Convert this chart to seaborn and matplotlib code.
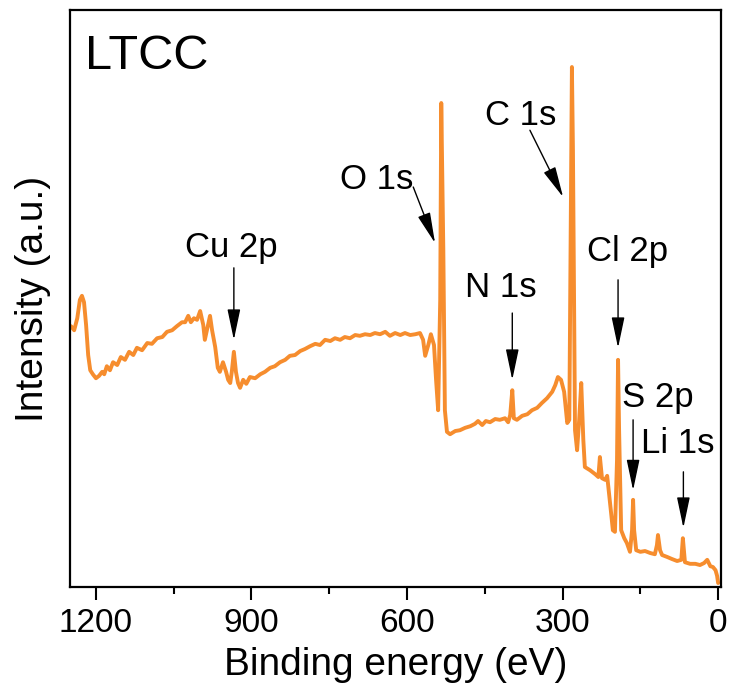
import numpy as np
import pandas as pd
import matplotlib
matplotlib.use("Agg")
import matplotlib.pyplot as plt
import seaborn as sns

# ---------------------------
# datos del espectro XPS (survey)
# ---------------------------
energia = [1248, 1242, 1236, 1231, 1227, 1223, 1219, 1215, 1211, 1206, 1200, 1194, 1188,
           1184, 1179, 1173, 1167, 1159, 1152, 1144, 1136, 1128, 1121, 1111, 1101, 1092,
           1082, 1072, 1063, 1053, 1044, 1034, 1028, 1022, 1017, 1011, 1005, 999, 993,
           990, 986, 980, 976, 970, 965, 961, 955, 949, 945, 941, 938, 934, 930, 926,
           922, 916, 910, 903, 893, 883, 874, 864, 855, 845, 835, 826, 816, 806, 797,
           787, 777, 768, 758, 748, 739, 729, 720, 710, 700, 691, 681, 671, 662, 652,
           642, 633, 623, 613, 604, 594, 584, 575, 569, 565, 559, 554, 548, 544, 540,
           536, 534, 530, 527, 523, 517, 507, 498, 488, 478, 469, 463, 455, 448, 440,
           430, 421, 411, 405, 401, 397, 394, 388, 378, 368, 359, 349, 340, 330, 320,
           314, 309, 303, 297, 291, 287, 284, 282, 280, 276, 272, 268, 264, 260, 257,
           247, 237, 231, 228, 224, 218, 214, 210, 206, 203, 199, 195, 193, 191, 187,
           181, 176, 170, 166, 164, 162, 158, 150, 141, 131, 122, 118, 116, 112, 108,
           98, 89, 79, 71, 68, 64, 54, 44, 35, 27, 21, 15, 10, 5, 2, 0]
intensidad = [65.2, 64.2, 67.2, 71.8, 72.8, 71.2, 65.5, 58.0, 54.2, 53.2, 52.2, 52.8, 53.8,
              53.2, 55.2, 54.2, 56.2, 55.5, 57.5, 56.8, 58.8, 58.0, 59.8, 59.2, 61.0, 60.8,
              62.2, 62.5, 63.8, 64.2, 65.2, 66.2, 66.2, 67.8, 66.2, 67.2, 66.8, 69.0, 65.5,
              61.8, 64.2, 67.8, 64.2, 60.0, 54.8, 53.8, 56.2, 53.8, 51.8, 51.0, 53.8, 58.8,
              53.8, 51.0, 49.8, 51.8, 50.8, 52.5, 52.2, 53.2, 53.8, 54.8, 55.2, 56.2, 56.8,
              57.8, 58.0, 59.0, 59.5, 60.2, 60.8, 60.5, 61.8, 61.5, 62.2, 61.8, 62.5, 62.2,
              63.0, 62.8, 63.2, 63.0, 63.5, 63.2, 63.8, 62.8, 63.5, 63.0, 63.5, 63.0, 63.2,
              63.5, 61.8, 57.8, 60.5, 63.2, 60.5, 51.8, 44.2, 71.8, 121.0, 84.2, 44.2, 38.8,
              38.2, 39.0, 39.2, 39.8, 40.2, 40.8, 41.5, 40.5, 41.5, 41.2, 42.0, 41.8, 42.2,
              41.2, 43.0, 49.2, 42.2, 41.8, 42.8, 43.2, 44.2, 44.8, 46.0, 47.2, 48.8, 50.5,
              52.5, 51.8, 48.8, 41.0, 41.8, 96.8, 130.0, 109.2, 39.2, 34.2, 41.8, 51.0,
              36.8, 30.0, 29.2, 28.2, 27.5, 32.5, 27.2, 26.8, 27.8, 23.0, 18.0, 14.2, 13.8,
              31.8, 56.8, 39.2, 14.2, 12.2, 11.0, 8.8, 14.2, 21.8, 14.2, 9.2, 8.8, 9.0,
              8.5, 8.2, 10.5, 13.0, 9.2, 8.0, 7.5, 7.0, 6.5, 6.8, 12.2, 6.2, 5.8, 5.8,
              5.5, 6.0, 6.8, 5.2, 5.0, 4.2, 2.8, 1.0]

# etiquetas de los picos: texto, posicion del texto, inicio y fin de la flecha
picos = ['Cu 2p', 'O 1s', 'C 1s', 'N 1s', 'Cl 2p', 'S 2p', 'Li 1s']
texto_x = [939, 658, 380, 420, 174, 116, 77]
texto_y = [84.8, 101.8, 118.0, 74.8, 83.8, 47.5, 35.8]
flecha_x0 = [934, 588, 363, 397, 193, 164, 67]
flecha_y0 = [79.8, 100.0, 114.2, 68.5, 76.8, 41.8, 28.8]
flecha_x1 = [934, 546, 299, 397, 193, 164, 67]
flecha_y1 = [61.8, 86.0, 97.5, 51.8, 59.8, 24.2, 14.8]

df = pd.DataFrame({'BE': energia, 'I': intensidad})

# ---------------------------
# grafica
# ---------------------------
sns.set_style('ticks')
plt.rcParams['font.family'] = ['Liberation Sans', 'DejaVu Sans']
plt.rcParams['text.color'] = 'black'
plt.rcParams['axes.labelcolor'] = 'black'
plt.rcParams['xtick.color'] = 'black'
plt.rcParams['ytick.color'] = 'black'

fig = plt.figure(figsize=(7.34, 6.92), dpi=100)
ax = fig.add_axes([0.0954, 0.1517, 0.8865, 0.8338])

sns.lineplot(data=df, x='BE', y='I', ax=ax, color='#F68D2E', lw=2.8,
             estimator=None, sort=False)

for i, nombre in enumerate(picos):
    ax.text(texto_x[i], texto_y[i], nombre, fontsize=25, ha='center', va='center')
    ax.annotate('', xy=(flecha_x1[i], flecha_y1[i]), xytext=(flecha_x0[i], flecha_y0[i]),
                arrowprops=dict(arrowstyle='-|>,head_length=0.95,head_width=0.2',
                                color='k', lw=1.0, shrinkA=0, shrinkB=0,
                                mutation_scale=20))

ax.text(0.023, 0.92, 'LTCC', transform=ax.transAxes, fontsize=35,
        ha='left', va='center')

ax.set_xlim(1250, -5)
ax.set_ylim(0, 144.25)
ax.set_xticks([1200, 900, 600, 300, 0])
ax.set_xticks([1050, 750, 450, 150], minor=True)
ax.set_yticks([])
ax.tick_params(axis='x', which='major', length=9, width=1.5, labelsize=24, pad=6)
ax.tick_params(axis='x', which='minor', length=5, width=1.5)
for s in ax.spines.values():
    s.set_linewidth(1.6)
    s.set_color('k')

ax.set_xlabel('Binding energy (eV)', fontsize=28, labelpad=6)
ax.set_ylabel('Intensity (a.u.)', fontsize=28, labelpad=14)

fig.savefig('out.png', dpi=100)
plt.close(fig)
